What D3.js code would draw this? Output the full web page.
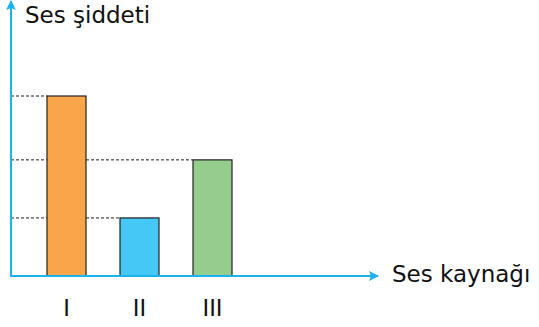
<!DOCTYPE html>
<html>
<head>
<meta charset="utf-8">
<script src="https://cdn.jsdelivr.net/npm/d3@7"></script>
<style>
  body { margin: 0; background: #fff; }
  text { font-family: "DejaVu Sans", sans-serif; fill: #111; }
</style>
</head>
<body>
<svg id="chart" width="539" height="327"></svg>
<script>
// data
const sources = ["I", "II", "III"];
const intensity = [3.1, 1, 2];
const barColors = ["#F9A54A", "#45C8F5", "#94CD8C"];

const axisColor = "#1AB2EF";
const x0 = 11, y0 = 276;   // origin of the axes

const svg = d3.select("#chart");

// scales
const x = d3.scaleBand()
    .domain(sources)
    .range([47, 232])
    .paddingInner(0.466)
    .paddingOuter(0);

const y = d3.scaleLinear()
    .domain([0, 4.65])
    .range([y0, 6]);

// dashed guide lines from y axis to the bar tops
svg.selectAll("line.guide")
    .data(sources)
    .join("line")
    .attr("class", "guide")
    .attr("x1", x0)
    .attr("x2", d => x(d))
    .attr("y1", (d, i) => y(intensity[i]))
    .attr("y2", (d, i) => y(intensity[i]))
    .attr("stroke", "#222")
    .attr("stroke-width", 1)
    .attr("stroke-dasharray", "3,2");

// bars
svg.selectAll("rect.bar")
    .data(sources)
    .join("rect")
    .attr("class", "bar")
    .attr("x", d => x(d))
    .attr("width", x.bandwidth())
    .attr("y", (d, i) => y(intensity[i]))
    .attr("height", (d, i) => y0 - y(intensity[i]))
    .attr("fill", (d, i) => barColors[i])
    .attr("stroke", "#222")
    .attr("stroke-width", 1.2);

// arrow heads
const defs = svg.append("defs");
defs.append("marker")
    .attr("id", "arrow")
    .attr("viewBox", "0 0 10 10")
    .attr("refX", 9)
    .attr("refY", 5)
    .attr("markerWidth", 5)
    .attr("markerHeight", 5)
    .attr("markerUnits", "strokeWidth")
    .attr("orient", "auto")
    .append("path")
    .attr("d", "M0,0 L10,5 L0,10 L2,5 Z")
    .attr("fill", axisColor);

// axes
svg.append("line")
    .attr("x1", x0).attr("y1", y0 + 1)
    .attr("x2", x0).attr("y2", 1)
    .attr("stroke", axisColor)
    .attr("stroke-width", 2)
    .attr("marker-end", "url(#arrow)");

svg.append("line")
    .attr("x1", x0 - 1).attr("y1", y0)
    .attr("x2", 378).attr("y2", y0)
    .attr("stroke", axisColor)
    .attr("stroke-width", 2)
    .attr("marker-end", "url(#arrow)");

// category labels
svg.selectAll("text.tick")
    .data(sources)
    .join("text")
    .attr("class", "tick")
    .attr("x", d => x(d) + x.bandwidth() / 2)
    .attr("y", 316)
    .attr("text-anchor", "middle")
    .style("font-size", "24px")
    .style("font-family", "Liberation Sans Narrow, Liberation Sans, sans-serif")
    .text(d => d);

// axis titles
svg.append("text")
    .attr("x", 25)
    .attr("y", 23)
    .style("font-size", "23px")
    .text("Ses şiddeti");

svg.append("text")
    .attr("x", 392)
    .attr("y", 282)
    .style("font-size", "23px")
    .text("Ses kaynağı");
</script>
</body>
</html>
